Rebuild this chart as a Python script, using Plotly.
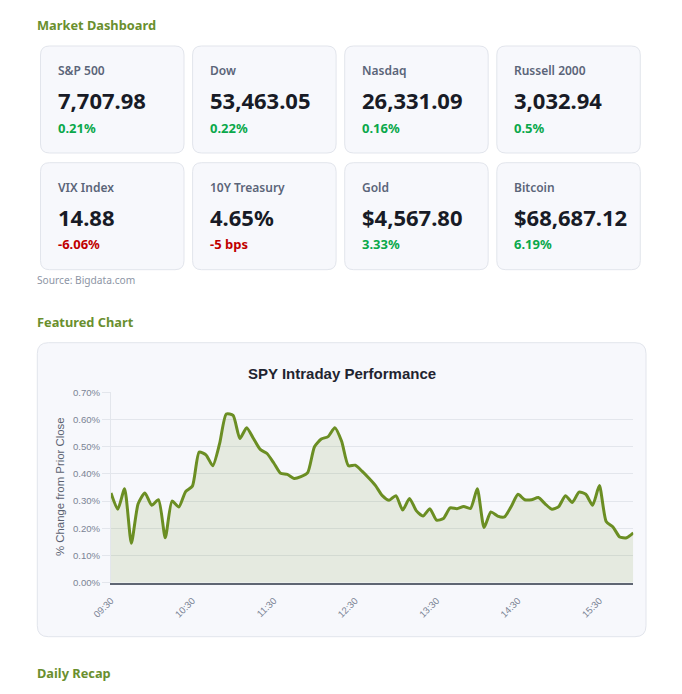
import plotly.graph_objects as go

# page body adds an 8px margin, so the figure is a little smaller than the window
OFF = 8
W, H = 682 - OFF, 694 - OFF

# card data
card_labels = ["S&P 500", "Dow", "Nasdaq", "Russell 2000",
               "VIX Index", "10Y Treasury", "Gold", "Bitcoin"]
card_values = ["7,707.98", "53,463.05", "26,331.09", "3,032.94",
               "14.88", "4.65%", "$4,567.80", "$68,687.12"]
card_changes = ["0.21%", "0.22%", "0.16%", "0.5%",
                "-6.06%", "-5 bps", "3.33%", "6.19%"]
card_up = [True, True, True, True, False, False, True, True]

# SPY intraday, % change from prior close
times = ["09:30", "09:35", "09:40", "09:45", "09:50", "09:55",
         "10:00", "10:05", "10:10", "10:15", "10:20", "10:25",
         "10:30", "10:35", "10:40", "10:45", "10:50", "10:55",
         "11:00", "11:05", "11:10", "11:15", "11:20", "11:25",
         "11:30", "11:35", "11:40", "11:45", "11:50", "11:55",
         "12:00", "12:05", "12:10", "12:15", "12:20", "12:25",
         "12:30", "12:35", "12:40", "12:45", "12:50", "12:55",
         "13:00", "13:05", "13:10", "13:15", "13:20", "13:25",
         "13:30", "13:35", "13:40", "13:45", "13:50", "13:55",
         "14:00", "14:05", "14:10", "14:15", "14:20", "14:25",
         "14:30", "14:35", "14:40", "14:45", "14:50", "14:55",
         "15:00", "15:05", "15:10", "15:15", "15:20", "15:25",
         "15:30", "15:35", "15:40", "15:45", "15:50", "15:55"]
pct_change = [0.33, 0.27, 0.345, 0.145, 0.29, 0.33,
              0.285, 0.305, 0.165, 0.30, 0.278, 0.335,
              0.355, 0.48, 0.47, 0.43, 0.51, 0.62,
              0.615, 0.53, 0.57, 0.53, 0.49, 0.475,
              0.44, 0.402, 0.398, 0.383, 0.39, 0.405,
              0.50, 0.528, 0.537, 0.57, 0.52, 0.43,
              0.432, 0.41, 0.385, 0.357, 0.32, 0.303,
              0.32, 0.267, 0.31, 0.265, 0.245, 0.272,
              0.23, 0.236, 0.275, 0.272, 0.28, 0.273,
              0.345, 0.203, 0.26, 0.245, 0.242, 0.28,
              0.325, 0.305, 0.305, 0.313, 0.29, 0.27,
              0.28, 0.32, 0.295, 0.333, 0.325, 0.285,
              0.357, 0.225, 0.205, 0.168, 0.165, 0.183]
x_ticks = ["09:30", "10:30", "11:30", "12:30", "13:30", "14:30", "15:30"]
y_ticks = [0, 0.1, 0.2, 0.3, 0.4, 0.5, 0.6, 0.7]
y_ticktext = ["0.00%", "0.10%", "0.20%", "0.30%", "0.40%", "0.50%", "0.60%", "0.70%"]

GREEN_HEAD = "#6a8f2e"
CARD_FILL = "#f7f8fc"
CARD_LINE = "#e2e5ec"
CARD_FONT = "Noto Sans"
CHART_FONT = "Liberation Sans, Arial"


def px(x):
    # screen pixel -> paper
    return (x - OFF) / W


def py(y):
    return 1 - (y - OFF) / H


def rounded(x0, y0, x1, y1, r):
    # rounded rect path in paper coords, from pixel coords
    pts = [
        ("M", [(x0 + r, y0)]),
        ("L", [(x1 - r, y0)]),
        ("Q", [(x1, y0), (x1, y0 + r)]),
        ("L", [(x1, y1 - r)]),
        ("Q", [(x1, y1), (x1 - r, y1)]),
        ("L", [(x0 + r, y1)]),
        ("Q", [(x0, y1), (x0, y1 - r)]),
        ("L", [(x0, y0 + r)]),
        ("Q", [(x0, y0), (x0 + r, y0)]),
    ]
    s = ""
    for cmd, ps in pts:
        s += cmd + " " + " ".join(f"{px(a):.5f},{py(b):.5f}" for a, b in ps) + " "
    return s + "Z"


def main():
    fig = go.Figure()
    fig.add_trace(go.Scatter(
        x=times, y=pct_change, mode="lines",
        line=dict(color="#6b8e23", width=3, shape="spline", smoothing=0.6),
        fill="tozeroy", fillcolor="rgba(107,142,35,0.13)",
        hoverinfo="skip", showlegend=False,
    ))

    shapes = []
    annotations = []

    # right page edge
    shapes.append(dict(type="rect", xref="paper", yref="paper", x0=px(679.5), x1=1,
                       y0=0, y1=1, fillcolor="#eef0f5", line=dict(width=0), layer="below"))

    # annotation boxes pad the text by ~2px, pull left-anchored text back
    pad = 2

    def heading(text, y):
        annotations.append(dict(text=text, xref="paper", yref="paper", x=px(37 - pad), y=py(y),
                                xanchor="left", yanchor="middle", showarrow=False,
                                font=dict(family=CARD_FONT, size=12.8, color=GREEN_HEAD, weight="bold")))

    heading("Market Dashboard", 25.5)
    heading("Featured Chart", 322.3)
    heading("Daily Recap", 673.3)

    # metric cards
    row_tops = [46, 162.7]
    for i in range(len(card_labels)):
        col, row = i % 4, i // 4
        x0 = 40.5 + 152.1 * col
        y0 = row_tops[row]
        shapes.append(dict(type="path", xref="paper", yref="paper",
                           path=rounded(x0, y0, x0 + 143.5, y0 + 107, 9),
                           fillcolor=CARD_FILL, line=dict(color=CARD_LINE, width=1), layer="below"))
        tx = px(x0 + 17.5 - pad)
        annotations.append(dict(text=card_labels[i], xref="paper", yref="paper", x=tx, y=py(y0 + 24.5),
                                xanchor="left", yanchor="middle", showarrow=False,
                                font=dict(family=CARD_FONT, size=12, color="#5b6579", weight=600)))
        annotations.append(dict(text=card_values[i], xref="paper", yref="paper", x=tx, y=py(y0 + 53.8),
                                xanchor="left", yanchor="middle", showarrow=False,
                                font=dict(family=CARD_FONT, size=22, color="#181b26", weight="bold")))
        annotations.append(dict(text=card_changes[i], xref="paper", yref="paper", x=tx, y=py(y0 + 81.5),
                                xanchor="left", yanchor="middle", showarrow=False,
                                font=dict(family=CARD_FONT, size=13, weight="bold",
                                          color="#0aa84b" if card_up[i] else "#c00000")))

    annotations.append(dict(text="Source: Bigdata.com", xref="paper", yref="paper", x=px(37 - pad), y=py(280),
                            xanchor="left", yanchor="middle", showarrow=False,
                            font=dict(family=CARD_FONT, size=10.2, color="#8d95a5")))

    # chart card
    shapes.append(dict(type="path", xref="paper", yref="paper",
                       path=rounded(37.3, 342.7, 646, 636.7, 11),
                       fillcolor=CARD_FILL, line=dict(color=CARD_LINE, width=1), layer="below"))
    annotations.append(dict(text="<b>SPY Intraday Performance</b>", xref="paper", yref="paper",
                            x=px(342), y=py(373.3), xanchor="center", yanchor="middle", showarrow=False,
                            font=dict(family=CHART_FONT, size=15, color="#1f2430")))
    annotations.append(dict(text="% Change from Prior Close", xref="paper", yref="paper",
                            x=px(60), y=py(487), xanchor="center", yanchor="middle", showarrow=False,
                            textangle=-90, font=dict(family=CHART_FONT, size=11.4, color="#5a6170")))

    grid = "#e3e6ec"
    fig.update_layout(
        width=W, height=H, autosize=False,
        margin=dict(l=0, r=0, t=0, b=0, pad=0, autoexpand=False),
        paper_bgcolor="white",
        plot_bgcolor="rgba(0,0,0,0)",
        shapes=shapes,
        annotations=annotations,
        xaxis=dict(
            domain=[px(111), px(633.3)],
            type="category", range=[0, len(times) - 1],
            tickvals=x_ticks, ticktext=x_ticks, tickangle=-45,
            showgrid=False, zeroline=False, automargin=False,
            showline=True, linecolor="#5f6673", linewidth=1.5,
            ticks="outside", ticklen=7, tickcolor="rgba(0,0,0,0)",
            tickfont=dict(family=CHART_FONT, size=9.5, color="#7b8495"),
            fixedrange=True,
        ),
        yaxis=dict(
            domain=[py(582.7), py(392.3)],
            range=[0, 0.7], tickvals=y_ticks, ticktext=y_ticktext,
            showgrid=True, gridcolor=grid, gridwidth=1,
            zeroline=False, automargin=False,
            showline=True, linecolor=grid, linewidth=1,
            ticks="outside", ticklen=8, tickcolor=grid,
            tickfont=dict(family=CHART_FONT, size=9.6, color="#7b8495"),
            fixedrange=True,
        ),
    )
    fig.write_html("out.html", config={"displayModeBar": False})


if __name__ == '__main__':
    main()
